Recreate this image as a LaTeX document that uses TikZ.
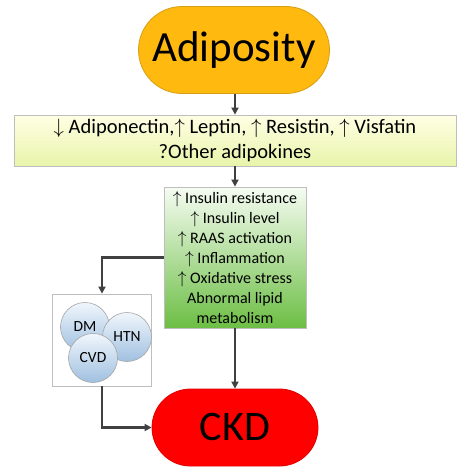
\documentclass[tikz,border=0pt]{standalone}
\usepackage{fontspec}
\setmainfont{Carlito}
\usetikzlibrary{arrows.meta,shapes.misc,shadings}
\definecolor{adifill}{RGB}{255,185,15}
\definecolor{adiline}{RGB}{215,160,20}
\definecolor{ckdfill}{RGB}{255,0,0}
\definecolor{ckdline}{RGB}{225,0,0}
\definecolor{arrgray}{RGB}{64,64,64}
\definecolor{ytop}{RGB}{255,255,228}
\definecolor{ybot}{RGB}{232,244,170}
\definecolor{gtop}{RGB}{246,252,242}
\definecolor{gbot}{RGB}{108,190,68}
\definecolor{ctop}{RGB}{240,246,252}
\definecolor{cbot}{RGB}{160,192,224}
\definecolor{boxline}{RGB}{190,190,190}
\begin{document}
\begin{tikzpicture}[x=1pt,y=-1pt,
  arr/.style={draw=arrgray,line width=2.2pt,-{Triangle[length=7pt,width=7pt]}},
  stadium/.style={rounded rectangle,inner sep=0pt,line width=0.8pt},
  boxed/.style={rectangle,draw=boxline,line width=0.8pt,inner sep=0pt,align=center},
  circ/.style={circle,draw=gray!70,line width=0.6pt,minimum size=49pt,inner sep=0pt,
    top color=ctop,bottom color=cbot,font=\fontsize{15.5}{18}\selectfont}]
\useasboundingbox (0,0) rectangle (467,475);
\node[stadium,fill=adifill,draw=adiline,minimum width=191pt,minimum height=87pt,
  font=\fontsize{43}{50}\selectfont] (adi) at (234,50) {Adiposity};
\node[boxed,top color=ytop,bottom color=ybot,minimum width=442pt,minimum height=51pt,
  font=\fontsize{20.5}{25}\selectfont] (yel) at (235,140.5)
  {$\downarrow$ Adiponectin,$\uparrow$ Leptin, $\uparrow$ Resistin, $\uparrow$ Visfatin\\?Other adipokines};
\node[boxed,top color=gtop,bottom color=gbot,minimum width=142pt,minimum height=141pt,
  font=\fontsize{16}{20}\selectfont] (grn) at (235,257.5)
  {$\uparrow$ Insulin resistance\\$\uparrow$ Insulin level\\$\uparrow$ RAAS activation\\$\uparrow$ Inflammation\\$\uparrow$ Oxidative stress\\Abnormal lipid\\metabolism};
\node[boxed,fill=white,minimum width=99pt,minimum height=92pt] (cbox) at (102,340) {};
\node[circ] (dm) at (85,327) {DM};
\node[circ] (htn) at (127,337) {HTN};
\node[circ] (cvd) at (93,358) {CVD};
\node[stadium,fill=ckdfill,draw=ckdline,minimum width=166pt,minimum height=77pt,
  font=\fontsize{42}{50}\selectfont] (ckd) at (235,427.5) {CKD};
\draw[arr] (adi.south -| yel.center) -- (yel.north);
\draw[arr] (yel.south) -- (grn.north);
\draw[arr] (grn.west) -| (cbox.north);
\draw[arr] (cbox.south) |- (ckd.west);
\draw[arr] (grn.south) -- (ckd.north);
\end{tikzpicture}
\end{document}
